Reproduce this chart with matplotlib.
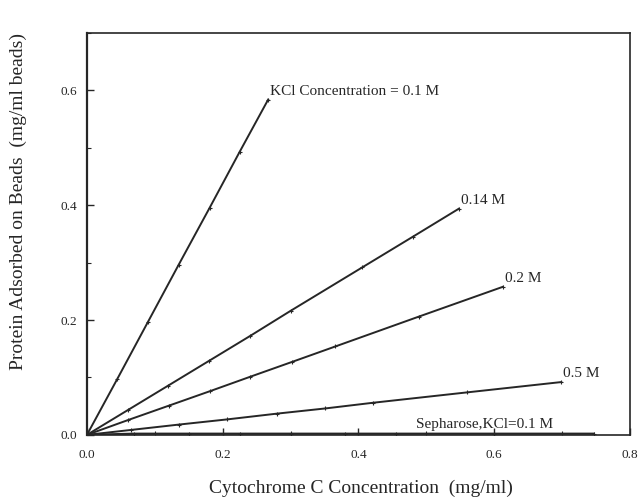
import matplotlib
matplotlib.use("Agg")
import matplotlib.pyplot as plt
from matplotlib.ticker import MultipleLocator

plt.rcParams['font.family'] = ['Liberation Serif', 'DejaVu Serif']

# adsorption isotherms, protein on beads vs. cytochrome c concentration
x_01 = [0.0, 0.045, 0.09, 0.135, 0.181, 0.225, 0.267]
y_01 = [0.0, 0.098, 0.197, 0.296, 0.396, 0.493, 0.584]

x_014 = [0.0, 0.06, 0.12, 0.18, 0.24, 0.30, 0.406, 0.48, 0.548]
y_014 = [0.0, 0.043, 0.086, 0.129, 0.172, 0.216, 0.292, 0.345, 0.394]

x_02 = [0.0, 0.061, 0.121, 0.181, 0.24, 0.302, 0.366, 0.489, 0.613]
y_02 = [0.0, 0.026, 0.051, 0.076, 0.101, 0.127, 0.154, 0.206, 0.258]

x_05 = [0.0, 0.065, 0.136, 0.207, 0.28, 0.351, 0.422, 0.56, 0.699]
y_05 = [0.0, 0.0086, 0.018, 0.027, 0.037, 0.046, 0.056, 0.074, 0.092]

x_seph = [0.0, 0.07, 0.15, 0.225, 0.30, 0.38, 0.455, 0.60, 0.747]
y_seph = [0.0, 0.002, 0.002, 0.002, 0.002, 0.002, 0.002, 0.002, 0.002]

series = [
    (x_01, y_01, "KCl Concentration = 0.1 M"),
    (x_014, y_014, "0.14 M"),
    (x_02, y_02, "0.2 M"),
    (x_05, y_05, "0.5 M"),
]

ink = "#262626"

fig = plt.figure(figsize=(6.44, 5.01), dpi=100)
ax = fig.add_axes([0.135, 0.132, 0.843, 0.802])

for xs, ys, label in series:
    ax.plot(xs, ys, color=ink, lw=1.4, marker='+', ms=3, mew=0.8)
    ax.text(xs[-1] + 0.003, ys[-1] + 0.003, label, fontsize=11,
            color=ink, ha='left', va='bottom')

ax.plot(x_seph, y_seph, color=ink, lw=1.6, marker='+', ms=3, mew=0.8)
ax.text(0.485, 0.006, "Sepharose,KCl=0.1 M", fontsize=11, color=ink,
        ha='left', va='bottom')

ax.set_xlim(0.0, 0.8)
ax.set_ylim(0.0, 0.7)
ax.xaxis.set_major_locator(MultipleLocator(0.2))
ax.yaxis.set_major_locator(MultipleLocator(0.2))
ax.yaxis.set_minor_locator(MultipleLocator(0.1))
ax.xaxis.set_minor_locator(MultipleLocator(0.1))
ax.xaxis.set_major_formatter(lambda v, p: f"{v:.1f}")
ax.yaxis.set_major_formatter(lambda v, p: f"{v:.1f}")
ax.tick_params(which='both', direction='in', color=ink, labelcolor=ink,
               labelsize=9.5)
ax.tick_params(which='major', length=5, width=1)
ax.tick_params(which='minor', length=3, width=0.8)
ax.tick_params(axis='x', pad=10)
ax.tick_params(axis='y', pad=7)
for sp in ax.spines.values():
    sp.set_color(ink)
    sp.set_linewidth(1.2)
ax.spines['left'].set_linewidth(1.6)

ax.set_xlabel("Cytochrome C Concentration  (mg/ml)", fontsize=14, color=ink)
ax.set_ylabel("Protein Adsorbed on Beads  (mg/ml beads)", fontsize=14,
              color=ink)
ax.xaxis.set_label_coords(0.505, -0.132)
ax.yaxis.set_label_coords(-0.127, 0.58)
ax.xaxis.label.set_va('center')
ax.yaxis.label.set_va('center')

fig.savefig("out.png", dpi=100)
